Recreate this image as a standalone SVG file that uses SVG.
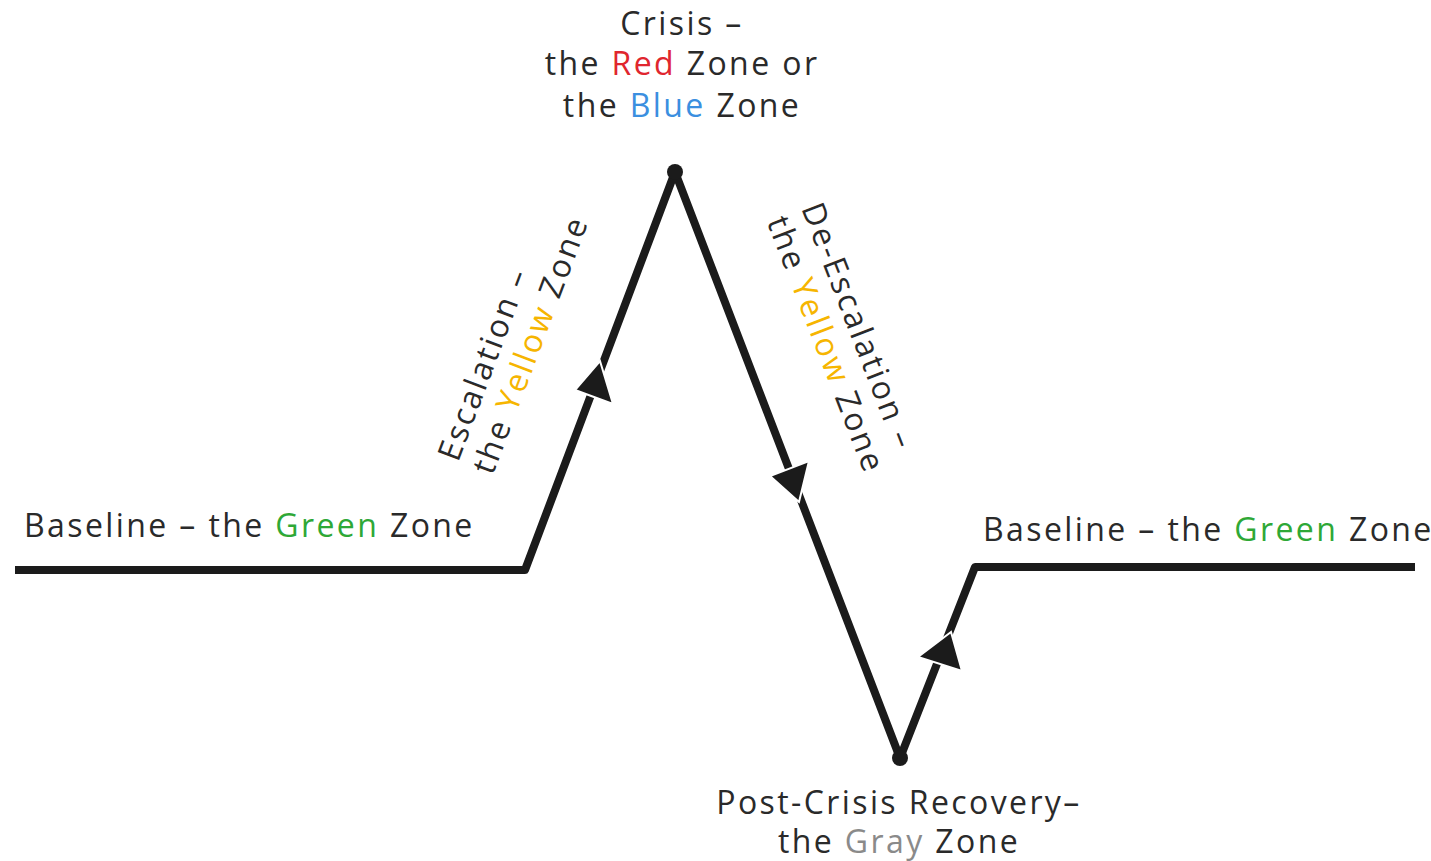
<svg xmlns="http://www.w3.org/2000/svg" width="1431" height="861" viewBox="0 0 1431 861">
<style>
text{font-family:"Open Sans","Liberation Sans",sans-serif;font-size:32px;letter-spacing:2.4px;fill:#2a2a2a}
.r{fill:#e0262e}.b{fill:#3b8fe0}.g{fill:#2ea836}.y{fill:#f6b500}.gr{fill:#8a8a8a}
.ln{fill:none;stroke:#1b1b1b;stroke-width:8;stroke-linejoin:round;stroke-linecap:butt}
.ah{fill:#1b1b1b;stroke:#fff;stroke-width:2}
</style>
<rect width="1431" height="861" fill="#fff"/>
<g id="connectors">
<path class="ln" d="M15,570 L525,570 L675,172 L900,758 L975,567 L1415,567"/>
<circle cx="675" cy="172" r="8" fill="#1b1b1b"/>
<circle cx="900" cy="758" r="8" fill="#1b1b1b"/>
<polygon class="ah" points="600,361 575,390 613,404"/>
<polygon class="ah" points="799,502 770,476 809,461"/>
<polygon class="ah" points="951,632 918,657 962,671"/>
</g>
<g id="crisis">
<text x="682" y="35" text-anchor="middle">Crisis –</text>
<text x="682" y="75" text-anchor="middle">the <tspan class="r">Red</tspan> Zone or</text>
<text x="682" y="117" text-anchor="middle">the <tspan class="b">Blue</tspan> Zone</text>
</g>
<g id="baseline-left">
<text x="24" y="537">Baseline – the <tspan class="g">Green</tspan> Zone</text>
</g>
<g id="baseline-right">
<text x="983" y="541">Baseline – the <tspan class="g">Green</tspan> Zone</text>
</g>
<g id="escalation">
<g transform="translate(458,463) rotate(-69.3)">
<text x="0" y="0">Escalation –</text>
<text x="0" y="37">the <tspan class="y">Yellow</tspan> Zone</text>
</g>
</g>
<g id="de-escalation">
<g transform="translate(801,208) rotate(68.8)">
<text x="0" y="0">De-Escalation –</text>
<text x="0" y="37">the <tspan class="y">Yellow</tspan> Zone</text>
</g>
</g>
<g id="recovery">
<text x="899" y="814" text-anchor="middle">Post-Crisis Recovery–</text>
<text x="899" y="853" text-anchor="middle">the <tspan class="gr">Gray</tspan> Zone</text>
</g>
</svg>
